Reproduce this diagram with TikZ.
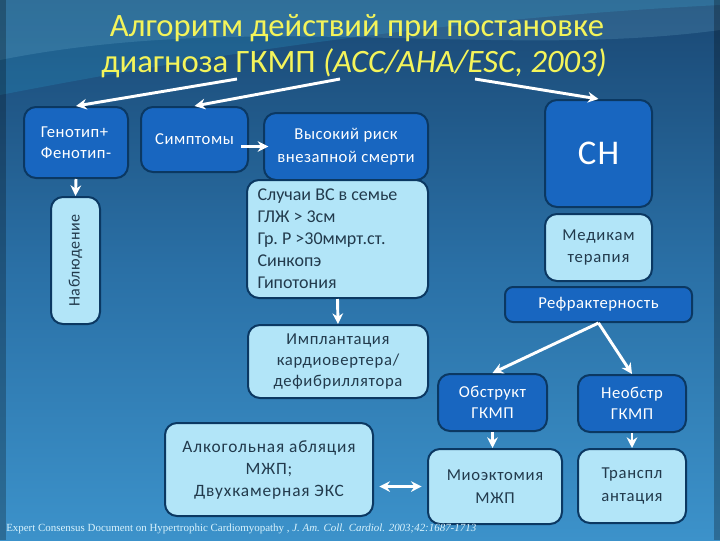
\documentclass[tikz,border=0pt]{standalone}
\usepackage{fontspec}
\setmainfont{Carlito}
\newfontfamily\footfont{Liberation Serif}
\usetikzlibrary{arrows.meta}
\definecolor{bgtop}{HTML}{1A4874}
\definecolor{bgmid}{HTML}{2A70A6}
\definecolor{bgbot}{HTML}{3C92CA}
\definecolor{dblue}{HTML}{1866C0}
\definecolor{lblue}{HTML}{B2E5F8}
\definecolor{bord}{HTML}{0B3862}
\definecolor{ltext}{HTML}{223A4C}
\definecolor{ttl}{HTML}{F4F45A}
\tikzset{
  boxbase/.style={draw=bord, line width=1.5pt, rounded corners=9pt, inner sep=0pt, align=center},
  dbox/.style={boxbase, fill=dblue, text=white, font=\fontsize{12.5}{15.5}\selectfont\addfontfeatures{LetterSpace=3}},
  lbox/.style={boxbase, fill=lblue, text=ltext, font=\fontsize{12}{15}\selectfont},
  ttlstyle/.style={text=ttl, font=\fontsize{24.5}{27}\selectfont, anchor=base, inner sep=0pt},
  arr/.style={white, line width=2.2pt, -{Stealth[length=8pt,width=8pt]}},
  darr/.style={white, line width=2.2pt, {Stealth[length=8pt,width=8pt]}-{Stealth[length=8pt,width=8pt]}}
}
\begin{document}
\begin{tikzpicture}[x=0.75pt,y=-0.75pt]
\useasboundingbox (0,0) rectangle (720,540);
% background
\fill[top color=bgtop, bottom color=bgbot, middle color=bgmid] (0,0) rectangle (720,540);
\fill[cyan!60!teal, opacity=0.25] (0,95) .. controls (180,60) and (420,20) .. (720,5) -- (720,0) -- (0,0) -- cycle;
\fill[cyan!40, opacity=0.15] (0,60) .. controls (250,10) and (500,60) .. (720,30) -- (720,0) -- (0,0) -- cycle;
\fill[black, opacity=0.25] (0,0) rectangle (6,540);
\fill[black, opacity=0.25] (714,0) rectangle (720,540);
% title
\node[ttlstyle] (title1) at (357,36) {Алгоритм действий при постановке};
\node[ttlstyle] (title2) at (354,72) {диагноза ГКМП \textit{(ACC/AHA/ESC, 2003)}};
\coordinate (t1) at (237,79);
\coordinate (t2) at (340,79);
\coordinate (t3) at (475,79);
% boxes
\node[dbox, minimum width=78pt, minimum height=53.25pt, align=left] (gen) at (76,142.5) {Генотип+\\Фенотип-};
\node[dbox, minimum width=80.25pt, minimum height=48.75pt] (sym) at (194.5,139.5) {Симптомы};
\node[dbox, minimum width=123pt, minimum height=50.25pt, font=\fontsize{12.5}{17}\selectfont\addfontfeatures{LetterSpace=3}] (risk) at (346,146.5) {Высокий риск\\внезапной смерти};
\node[dbox, minimum width=80.25pt, minimum height=80.25pt, font=\fontsize{26}{28}\selectfont\addfontfeatures{LetterSpace=4}] (ch) at (598.5,153.5) {СН};
\node[lbox, minimum width=36.75pt, minimum height=95.25pt] (nab) at (75.5,260.5) {};
\node[text=ltext, rotate=90, font=\fontsize{12}{15}\selectfont\addfontfeatures{LetterSpace=4}] at (nab.center) {Наблюдение};
\node[lbox, minimum width=135.75pt, minimum height=88.5pt, align=flush left, text width=120pt, font=\fontsize{13.5}{16.5}\selectfont] (cases) at (337.5,239)
  {Случаи ВС в семье\\ГЛЖ > 3см\\Гр.\ Р >30ммрт.ст.\\Синкопэ\\Гипотония};
\node[lbox, minimum width=80.25pt, minimum height=50.25pt, font=\fontsize{12.5}{16}\selectfont\addfontfeatures{LetterSpace=5}] (med) at (598.5,247.5) {Медикам\\терапия};
\node[dbox, minimum width=140.25pt, minimum height=26.25pt, rounded corners=6pt] (refr) at (598.5,304.5) {Рефрактерность};
\node[lbox, minimum width=135pt, minimum height=54.75pt, font=\fontsize{12.5}{16}\selectfont\addfontfeatures{LetterSpace=4}] (impl) at (338,361.5) {Имплантация\\кардиовертера/\\дефибриллятора};
\node[dbox, minimum width=81.75pt, minimum height=42.75pt] (obs) at (492.5,402.5) {Обструкт\\ГКМП};
\node[dbox, minimum width=81pt, minimum height=42.75pt] (nonobs) at (632,403.5) {Необстр\\ГКМП};
\node[lbox, minimum width=156pt, minimum height=69.75pt, font=\fontsize{13}{16.5}\selectfont\addfontfeatures{LetterSpace=5}] (alc) at (269,469.5) {Алкогольная абляция\\МЖП;\\Двухкамерная ЭКС};
\node[lbox, minimum width=100.5pt, minimum height=56.25pt, font=\fontsize{12.5}{17}\selectfont\addfontfeatures{LetterSpace=4}] (myo) at (495,486.5) {Миоэктомия\\МЖП};
\node[lbox, minimum width=81pt, minimum height=55.5pt, font=\fontsize{12.5}{17}\selectfont\addfontfeatures{LetterSpace=4}] (trans) at (632,486) {Транспл\\антация};
% footer
\node[anchor=west, text=white!85!cyan, font=\footfont\fontsize{8.2}{9}\selectfont, inner sep=0pt] (foot) at (6,529)
  {Expert Consensus Document on Hypertrophic Cardiomyopathy , \textit{J. Am. Coll. Cardiol. 2003;42:1687-1713}};
% connectors
\draw[arr] (t1) -- (gen.north);
\draw[arr] (t2) -- (sym.north);
\draw[arr] (t3) -- (ch.north);
\draw[arr] (gen.south) -- (nab.north);
\draw[arr] ([xshift=-6]sym.east |- risk.west) -- ([xshift=4]risk.west);
\draw[arr] (cases.south) -- (impl.north);
\draw[arr] (refr.south) -- (obs.north);
\draw[arr] (refr.south) -- (nonobs.north);
\draw[arr] (obs.south) -- (obs.south |- myo.north);
\draw[arr] (nonobs.south) -- (trans.north);
\draw[darr] ([xshift=4]alc.east |- myo.west) -- ([xshift=-4]myo.west);
\end{tikzpicture}
\end{document}
